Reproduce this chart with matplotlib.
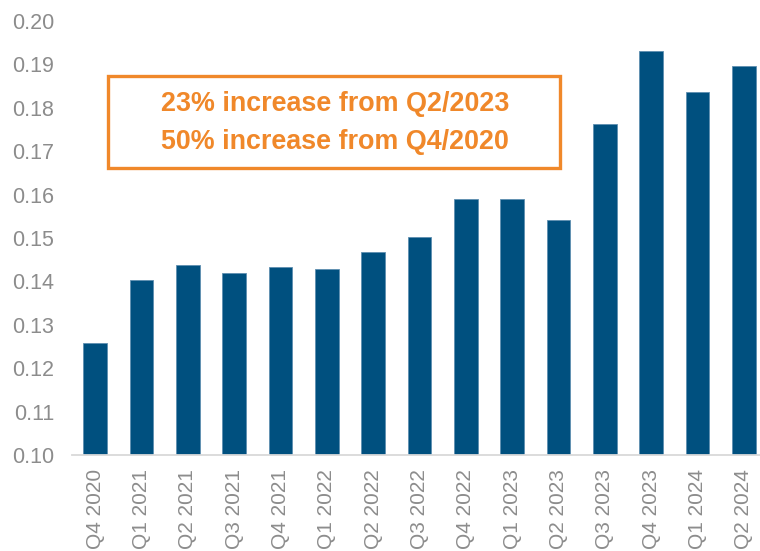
import matplotlib
matplotlib.use("Agg")
import matplotlib.pyplot as plt
from matplotlib.patches import Rectangle

categories = ["Q4 2020", "Q1 2021", "Q2 2021", "Q3 2021", "Q4 2021", "Q1 2022",
              "Q2 2022", "Q3 2022", "Q4 2022", "Q1 2023", "Q2 2023", "Q3 2023",
              "Q4 2023", "Q1 2024", "Q2 2024"]
values = [0.1258, 0.1403, 0.1438, 0.1419, 0.1433, 0.1429, 0.1468, 0.1502,
          0.1590, 0.1590, 0.1541, 0.1763, 0.1930, 0.1836, 0.1896]
yticks = [0.10, 0.11, 0.12, 0.13, 0.14, 0.15, 0.16, 0.17, 0.18, 0.19, 0.20]
note_lines = ["23% increase from Q2/2023", "50% increase from Q4/2020"]

plt.rcParams['font.family'] = ['Liberation Sans', 'DejaVu Sans']

fig = plt.figure(figsize=(7.6, 5.51), dpi=100)
ax = fig.add_axes([72/760, 1-455/551, 695/760, (455-21)/551])

bar_color = "#00507F"
gray = "#8C8C8C"
orange = "#F0882A"

x = list(range(len(categories)))
ax.bar(x, values, width=0.51, color=bar_color, edgecolor="#5E8FB0", linewidth=0.6, zorder=2)
ax.set_xlim(-0.5, 14.5)
ax.set_ylim(0.10, 0.20)
ax.set_yticks(yticks)
ax.set_yticklabels([f"{v:.2f}" for v in yticks])
ax.set_xticks(x)
ax.set_xticklabels(categories, rotation=90)

for s in ["top", "right", "left"]:
    ax.spines[s].set_visible(False)
ax.spines["bottom"].set_color("#D9D9D9")
ax.spines["bottom"].set_linewidth(1.3)
ax.tick_params(axis="y", length=0, pad=13, labelsize=15.5, labelcolor=gray)
ax.tick_params(axis="x", length=0, pad=10, labelsize=15, labelcolor=gray)

# annotation box
fig.patches.append(Rectangle((108/760, 1-168/551), (560-108)/760, (168-76)/551,
                             transform=fig.transFigure, fill=False,
                             edgecolor=orange, linewidth=2.4, zorder=5))
fig.text(335/760, 1-104/551, note_lines[0], ha="center", va="center",
         fontsize=19.4, fontweight="bold", color=orange)
fig.text(335/760, 1-142/551, note_lines[1], ha="center", va="center",
         fontsize=19.4, fontweight="bold", color=orange)

fig.savefig("out.png", dpi=100)
